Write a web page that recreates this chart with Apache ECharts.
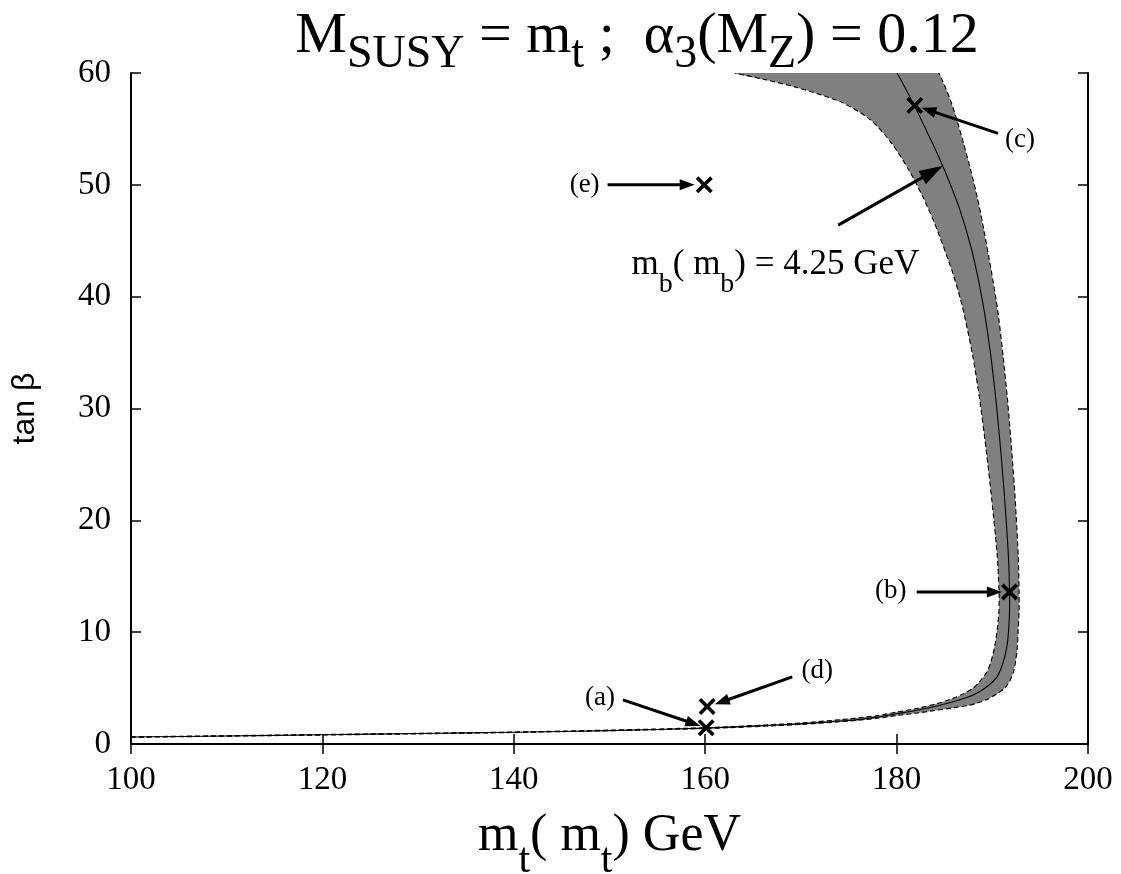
<!DOCTYPE html>
<html>
<head>
<meta charset="utf-8">
<script src="https://cdn.jsdelivr.net/npm/echarts@6/dist/echarts.min.js"></script>
<style>
  html, body { margin: 0; padding: 0; background: #fff; }
  #chart { width: 1121px; height: 874px; }
</style>
</head>
<body>
<div id="chart"></div>
<script>
// Axis ticks
const xTicks = [100, 120, 140, 160, 180, 200];
const yTicks = [0, 10, 20, 30, 40, 50, 60];

// m_b(m_b) = 4.25 GeV contour  [m_t, tan beta]
const centralCurve = [
  [100, 0.62], [110, 0.72], [120, 0.83], [130, 0.94], [140, 1.05], [150, 1.2],
  [160, 1.42], [165, 1.6], [170, 1.8], [175, 2.1], [178, 2.4], [180, 2.7],
  [182, 3.0], [184, 3.35], [186, 3.8], [187.5, 4.2], [188.7, 4.7], [189.7, 5.3],
  [190.5, 6.0], [191.1, 7.2], [191.5, 8.6], [191.7, 10.1], [191.8, 12], [191.8, 13.7],
  [191.7, 16.5], [191.45, 20], [191.15, 23.5], [190.8, 27], [190.35, 31], [189.8, 35],
  [189.2, 38.5], [188.55, 41.5], [187.75, 44.5], [186.6, 47.8], [185.4, 50.5],
  [184.25, 52.8], [183.15, 54.8], [182.2, 56.5], [181.3, 58], [180.5, 59.3], [180.05, 60]
];

// Band edges (dashed)
const innerEdge = [
  [100, 0.64], [120, 0.85], [140, 1.07], [160, 1.46], [170, 1.88], [175, 2.25],
  [178, 2.55], [180, 2.85], [182.2, 3.2], [184.2, 3.6], [185.8, 4.05], [187, 4.5],
  [188, 5.0], [188.7, 5.6], [189.4, 6.4], [189.8, 7.2], [190.2, 8.5], [190.5, 10.1],
  [190.7, 12], [190.7, 13.7], [190.5, 17], [189.95, 21.8], [189.4, 26], [188.7, 30.7],
  [188.0, 34.5], [187.2, 37.9], [186.7, 39.7], [185.8, 42.3], [184.0, 46.5],
  [182.7, 49], [181.3, 51.3], [179.5, 53.7], [177.3, 55.8], [174.2, 57.4],
  [169.6, 58.7], [166.3, 59.4], [163.1, 60]
];
const outerEdge = [
  [100, 0.6], [120, 0.8], [140, 1.03], [160, 1.38], [170, 1.75], [175, 2.05],
  [178, 2.3], [180, 2.55], [182, 2.75], [184, 3.0], [186, 3.25], [187.5, 3.45],
  [188.4, 3.65], [189.5, 4.0], [190.5, 4.5], [191.3, 5.0], [191.8, 5.6], [192.2, 6.4],
  [192.4, 7.2], [192.6, 8.5], [192.7, 10.1], [192.8, 12], [192.8, 13.7], [192.7, 17],
  [192.4, 21.8], [192.05, 26], [191.6, 30.7], [191.15, 34.5], [190.7, 37.9],
  [190.4, 39.7], [189.9, 42.3], [189.0, 46.5], [188.4, 49], [187.75, 51.3],
  [187.0, 53.7], [186.3, 55.8], [185.7, 57.4], [185.1, 58.7], [184.75, 59.4], [184.4, 60]
];

// Benchmark points (a)-(e)
const pointNames = ['(a)', '(b)', '(c)', '(d)', '(e)'];
const pointMt = [160.1, 191.8, 181.9, 160.2, 159.9];
const pointTanB = [1.45, 13.6, 57.1, 3.35, 50.0];

// Where each point's name sits
const nameMt = [149.0, 179.4, 192.9, 171.7, 147.4];
const nameTanB = [4.1, 13.7, 54.0, 6.5, 50.0];

// Arrows from each name to its point: [from], [to]
const arrowFrom = [[151.4, 3.94], [182.1, 13.6], [190.6, 54.6], [169.1, 6.0], [149.8, 50.0]];
const arrowTo = [[159.5, 1.62], [191.0, 13.6], [182.6, 56.9], [161.0, 3.55], [158.9, 50.0]];

// Contour label and its arrow
const contourLabelAt = [152.3, 44.6];
const contourArrowFrom = [173.9, 46.4];
const contourArrowTo = [184.85, 51.7];

const SERIF = '"Liberation Serif", "Times New Roman", Times, serif';
const SANS = '"Liberation Sans", Arial, Helvetica, sans-serif';
const SMOOTH = 0.25;

const chart = echarts.init(document.getElementById('chart'), null, { renderer: 'canvas' });

// Rich-text styles: main text and a lowered, smaller subscript
function subRich(mainSize, subSize, mainBox, subBox) {
  return {
    m: { fontFamily: SERIF, fontSize: mainSize, fontWeight: 'normal', color: '#000',
         height: mainBox, lineHeight: mainBox, verticalAlign: 'top' },
    s: { fontFamily: SERIF, fontSize: subSize, fontWeight: 'normal', color: '#000',
         height: subBox, lineHeight: subBox, verticalAlign: 'top' }
  };
}

function curveSeries(points, dashed) {
  return {
    type: 'custom',
    coordinateSystem: 'cartesian2d',
    clip: true,
    silent: true,
    z: dashed ? 3 : 4,
    data: points,
    encode: { x: 0, y: 1 },
    renderItem: function (params, api) {
      if (params.dataIndex !== 0) return null;
      const pts = points.map(p => api.coord(p));
      return {
        type: 'polyline',
        shape: { points: pts, smooth: SMOOTH },
        style: {
          stroke: '#000', lineWidth: 1.1, fill: null,
          lineDash: dashed ? [5, 3] : null
        }
      };
    }
  };
}

function arrowSeries(from, to, headLen, headHalf) {
  return {
    type: 'custom',
    coordinateSystem: 'cartesian2d',
    clip: false,
    silent: true,
    z: 6,
    data: from.map((f, i) => [f[0], f[1], to[i][0], to[i][1]]),
    encode: { x: [0, 2], y: [1, 3] },
    renderItem: function (params, api) {
      const p0 = api.coord([api.value(0), api.value(1)]);
      const p1 = api.coord([api.value(2), api.value(3)]);
      const dx = p1[0] - p0[0], dy = p1[1] - p0[1];
      const len = Math.hypot(dx, dy);
      const ux = dx / len, uy = dy / len;
      const bx = p1[0] - ux * headLen, by = p1[1] - uy * headLen;
      return {
        type: 'group',
        children: [
          {
            type: 'line',
            shape: { x1: p0[0], y1: p0[1], x2: bx + ux * 2, y2: by + uy * 2 },
            style: { stroke: '#000', lineWidth: 3 }
          },
          {
            type: 'polygon',
            shape: { points: [p1, [bx - uy * headHalf, by + ux * headHalf], [bx + uy * headHalf, by - ux * headHalf]] },
            style: { fill: '#000' }
          }
        ]
      };
    }
  };
}

const bandPolygon = innerEdge.concat(outerEdge.slice().reverse());

const crossPath = 'path://M0,3 L3,0 L10,7 L17,0 L20,3 L13,10 L20,17 L17,20 L10,13 L3,20 L0,17 L7,10 Z';

const xMin = xTicks[0], xMax = xTicks[xTicks.length - 1], xStep = xTicks[1] - xTicks[0];
const yMin = yTicks[0], yMax = yTicks[yTicks.length - 1], yStep = yTicks[1] - yTicks[0];

const tickLabelStyle = { fontFamily: SERIF, fontSize: 33, color: '#000' };
const axisLineStyle = { lineStyle: { color: '#000', width: 2 } };
const axisTickStyle = { inside: true, length: 10, lineStyle: { color: '#000', width: 1.5 } };

const option = {
  backgroundColor: '#fff',
  animation: false,
  title: {
    text: '{m|M}{s|SUSY}{m| = m}{s|t}{m| ;  α}{s|3}{m|(M}{s|Z}{m|) = 0.12}',
    left: 632,
    top: 1,
    textAlign: 'center',
    textStyle: {
      fontWeight: 'normal',
      rich: subRich(58, 46, 62, 98)
    }
  },
  grid: { left: 131, right: 33, top: 73, bottom: 130, containLabel: false, outerBoundsMode: 'none' },
  xAxis: [
    {
      type: 'value', min: xMin, max: xMax, interval: xStep,
      position: 'bottom',
      axisLine: axisLineStyle, axisTick: axisTickStyle, splitLine: { show: false },
      axisLabel: Object.assign({ margin: 20 }, tickLabelStyle),
      name: '{m|m}{s|t}{m|( m}{s|t}{m|) GeV}',
      nameLocation: 'middle',
      nameGap: 62,
      nameTextStyle: { rich: subRich(52, 42, 60, 110) }
    },
    {
      type: 'value', min: xMin, max: xMax, interval: xStep,
      position: 'top',
      axisLine: axisLineStyle, axisTick: axisTickStyle, splitLine: { show: false },
      axisLabel: { show: false }
    }
  ],
  yAxis: [
    {
      type: 'value', min: yMin, max: yMax, interval: yStep,
      position: 'left',
      axisLine: axisLineStyle, axisTick: axisTickStyle, splitLine: { show: false },
      axisLabel: Object.assign({ margin: 20 }, tickLabelStyle),
      name: 'tan β',
      nameLocation: 'middle',
      nameRotate: 90,
      nameGap: 90,
      nameTextStyle: { fontFamily: SANS, fontSize: 32, color: '#000' }
    },
    {
      type: 'value', min: yMin, max: yMax, interval: yStep,
      position: 'right',
      axisLine: axisLineStyle, axisTick: axisTickStyle, splitLine: { show: false },
      axisLabel: { show: false }
    }
  ],
  series: [
    // shaded band between the dashed edges
    {
      type: 'custom',
      coordinateSystem: 'cartesian2d',
      clip: true,
      silent: true,
      z: 2,
      data: bandPolygon,
      encode: { x: 0, y: 1 },
      renderItem: function (params, api) {
        if (params.dataIndex !== 0) return null;
        return {
          type: 'polygon',
          shape: { points: bandPolygon.map(p => api.coord(p)), smooth: SMOOTH },
          style: { fill: '#808080', stroke: null }
        };
      }
    },
    curveSeries(innerEdge, true),
    curveSeries(outerEdge, true),
    curveSeries(centralCurve, false),
    // benchmark crosses
    {
      type: 'scatter',
      silent: true,
      z: 7,
      symbol: crossPath,
      symbolSize: 17,
      itemStyle: { color: '#000', opacity: 1 },
      data: pointMt.map((x, i) => [x, pointTanB[i]])
    },
    // point names
    {
      type: 'scatter',
      silent: true,
      z: 7,
      symbolSize: 0,
      itemStyle: { opacity: 1 },
      data: nameMt.map((x, i) => ({ value: [x, nameTanB[i]], name: pointNames[i] })),
      label: {
        show: true,
        position: 'inside',
        formatter: '{b}',
        fontFamily: SERIF,
        fontSize: 27,
        color: '#000',
        opacity: 1,
        align: 'center',
        verticalAlign: 'middle'
      }
    },
    arrowSeries(arrowFrom, arrowTo, 15, 5.5),
    arrowSeries([contourArrowFrom], [contourArrowTo], 24, 7.5),
    // contour label
    {
      type: 'scatter',
      silent: true,
      z: 7,
      symbolSize: 0,
      itemStyle: { opacity: 1 },
      data: [{ value: contourLabelAt, name: 'mb' }],
      label: {
        show: true,
        position: 'inside',
        align: 'left',
        verticalAlign: 'top',
        opacity: 1,
        formatter: '{m|m}{s|b}{m|( m}{s|b}{m|) = 4.25 GeV}',
        rich: subRich(35, 28, 40, 78)
      }
    }
  ]
};

chart.setOption(option);
</script>
</body>
</html>
